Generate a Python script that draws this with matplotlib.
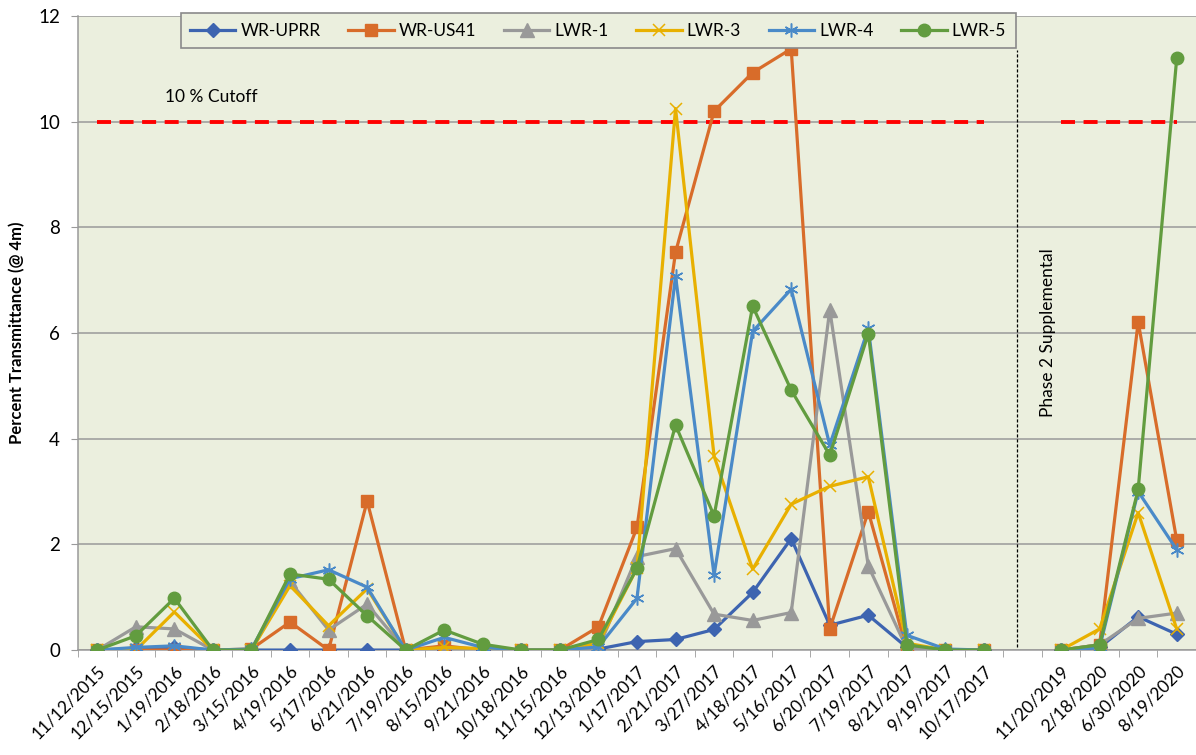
import numpy as np
import matplotlib
matplotlib.use("Agg")
import matplotlib.pyplot as plt

plt.rcParams['font.family'] = ['Lato', 'DejaVu Sans']

nan = np.nan

# category labels (blank slot separates the two phases)
dates = ['11/12/2015', '12/15/2015', '1/19/2016', '2/18/2016', '3/15/2016',
         '4/19/2016', '5/17/2016', '6/21/2016', '7/19/2016', '8/15/2016',
         '9/21/2016', '10/18/2016', '11/15/2016', '12/13/2016', '1/17/2017',
         '2/21/2017', '3/27/2017', '4/18/2017', '5/16/2017', '6/20/2017',
         '7/19/2017', '8/21/2017', '9/19/2017', '10/17/2017', '',
         '11/20/2019', '2/18/2020', '6/30/2020', '8/19/2020']

wr_uprr = [0, 0.03, 0.05, 0, 0, 0, 0, 0, 0, 0, 0, 0, 0, 0.02, 0.16, 0.2,
           0.39, 1.09, 2.11, 0.47, 0.66, 0.05, 0, 0, nan, 0, 0.05, 0.63, 0.3]
wr_us41 = [0, 0, 0, 0, 0.02, 0.53, 0, 2.82, 0, 0.08, 0, 0, 0, 0.44, 2.32, 7.53,
           10.2, 10.93, 11.38, 0.4, 2.62, 0, 0, 0, nan, 0, 0.1, 6.21, 2.08]
lwr1 = [0, 0.44, 0.4, 0, 0, 1.3, 0.38, 0.87, 0, 0, 0, 0, 0, 0.03, 1.77, 1.92,
        0.68, 0.56, 0.71, 6.44, 1.59, 0.03, 0, 0, nan, 0, 0.1, 0.6, 0.7]
lwr3 = [0, 0, 0.72, 0, 0, 1.22, 0.46, 1.16, 0, 0.05, 0.03, 0, 0, 0.13, 1.55, 10.25,
        3.67, 1.53, 2.76, 3.1, 3.28, 0.13, 0, 0, nan, 0, 0.4, 2.6, 0.4]
lwr4 = [0, 0.05, 0.08, 0, 0.02, 1.35, 1.52, 1.19, 0, 0.24, 0.05, 0, 0, 0.06, 0.98, 7.08,
        1.42, 6.03, 6.83, 3.88, 6.09, 0.28, 0.02, 0, nan, 0, 0.05, 3.0, 1.9]
lwr5 = [0, 0.27, 0.98, 0, 0, 1.44, 1.34, 0.65, 0, 0.38, 0.11, 0, 0, 0.2, 1.55, 4.26,
        2.54, 6.51, 4.92, 3.69, 5.99, 0.1, 0, 0, nan, 0, 0.1, 3.04, 11.2]
cutoff = [10, 10, 10, 10, 10, 10, 10, 10, 10, 10, 10, 10, 10, 10, 10, 10,
          10, 10, 10, 10, 10, 10, 10, 10, nan, 10, 10, 10, 10]

series = [
    ('WR-UPRR', wr_uprr, '#3D64B0', dict(marker='D', ms=7)),
    ('WR-US41', wr_us41, '#D86C2A', dict(marker='s', ms=9)),
    ('LWR-1', lwr1, '#999999', dict(marker='^', ms=9.5)),
    ('LWR-3', lwr3, '#E8B000', dict(marker='x', ms=9, mew=1.1)),
    ('LWR-4', lwr4, '#4A8AC8', dict(marker=(6, 2, 0), ms=10, mew=1.1)),
    ('LWR-5', lwr5, '#629C3F', dict(marker='o', ms=9)),
]

bg = '#EBEFDE'
grid_c = '#9A9A9A'

fig = plt.figure(figsize=(11.96, 7.55), dpi=100)
ax = fig.add_axes([0.0652, 0.139, 0.9348, 0.8397])
ax.set_facecolor(bg)

x = np.arange(len(dates))

# cutoff line
ax.plot(x, cutoff, color='#FF0000', lw=2.8, dashes=(3.6, 2.2), zorder=2)
ax.text(1.75, 10.47, '10 % Cutoff', fontsize=12.5, ha='left', va='center')

for name, vals, col, mk in series:
    ax.plot(x, vals, color=col, lw=2.3, label=name, mfc=col, mec=col,
            zorder=3, **mk)

# phase separator
ax.plot([23.85, 23.85], [0.05, 11.35], color='black', lw=0.9, ls=(0, (2.5, 1.5)),
        zorder=2)
ax.text(24.65, 6.0, 'Phase 2 Supplemental', rotation=90, fontsize=12.5,
        ha='center', va='center')

ax.set_xlim(-0.5, len(dates) - 0.5)
ax.set_ylim(0, 12)
ax.set_yticks(np.arange(0, 13, 2))
ax.tick_params(axis='y', labelsize=13.5, length=5, color=grid_c, pad=8)
ax.yaxis.grid(True, color=grid_c, lw=1.1)
ax.set_axisbelow(True)

ax.set_xticks(x)
ax.set_xticklabels(dates, rotation=45, ha='right', rotation_mode='anchor',
                   fontsize=12.5)
ax.set_xticks(np.arange(-0.5, len(dates), 1), minor=True)
ax.tick_params(axis='x', which='major', length=0, pad=9)
ax.tick_params(axis='x', which='minor', length=5, color=grid_c)

for s in ['top', 'right']:
    ax.spines[s].set_visible(False)
for s in ['left', 'bottom']:
    ax.spines[s].set_color(grid_c)
    ax.spines[s].set_linewidth(1.1)

ax.set_ylabel('Percent Transmittance (@ 4m)', fontsize=12, fontweight='bold',
              labelpad=9)

leg = ax.legend(loc='upper left', bbox_to_anchor=(0.084, 1.018), ncol=6,
                fontsize=12.5, frameon=True, fancybox=False, edgecolor='#8A8A8A',
                facecolor=bg, framealpha=1, handlelength=2.6, columnspacing=1.6,
                borderpad=0.55, handletextpad=0.3)
leg.get_frame().set_linewidth(1.2)
leg.set_zorder(10)

fig.savefig('out.png', dpi=100)
